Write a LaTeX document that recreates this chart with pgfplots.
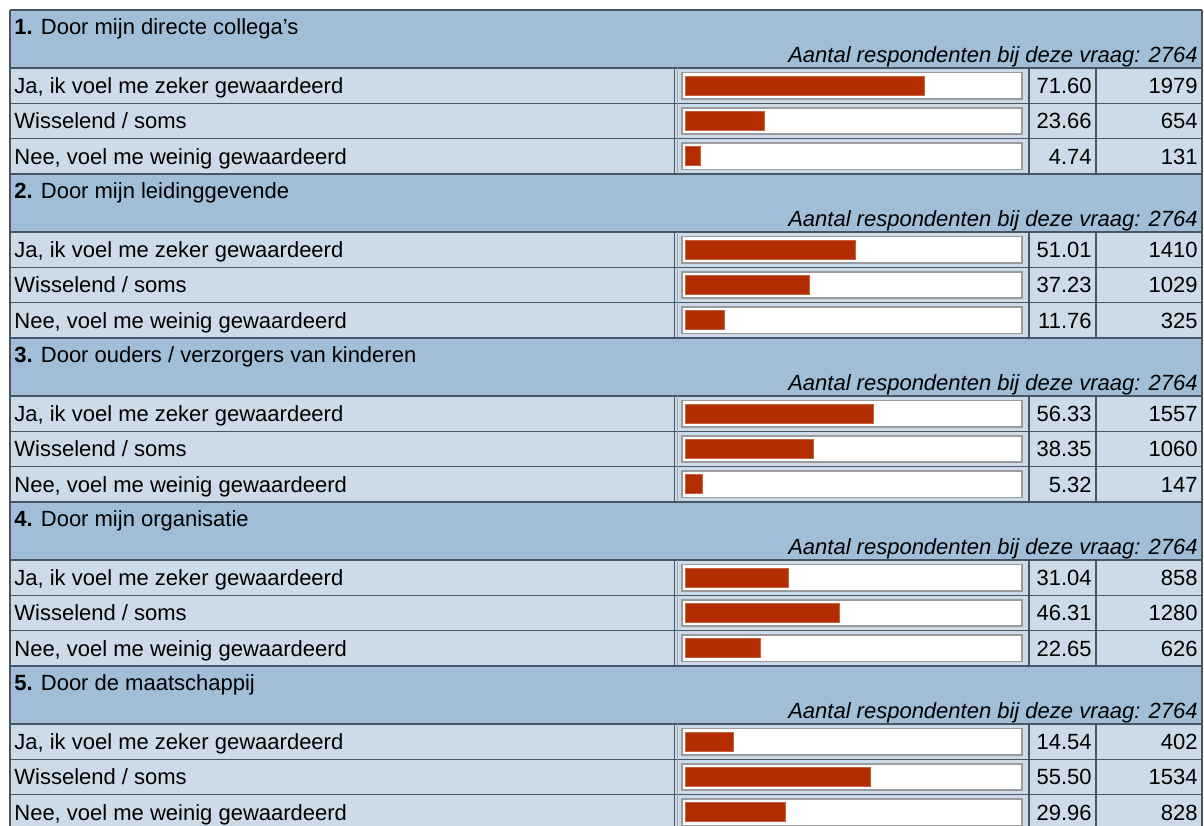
\documentclass[border=0pt]{standalone}
\usepackage{pgfplots}
\pgfplotsset{compat=1.18}
\usepackage{pgfplotstable}
\usepackage{fontspec}
\setmainfont{Liberation Sans}
\definecolor{hdr}{RGB}{160,190,216}
\definecolor{rowbg}{RGB}{205,219,232}
\definecolor{barred}{RGB}{179,45,0}
\definecolor{gridc}{RGB}{72,86,100}
\definecolor{gridl}{RGB}{150,165,180}
\definecolor{boxgray}{RGB}{155,155,155}

% y = row centre (px from top), pct = percentage, n = count
\pgfplotstableread{
y     pct    n
85.7  71.60  1979
121.0 23.66  654
156.3 4.74   131
249.7 51.01  1410
285.0 37.23  1029
320.3 11.76  325
413.7 56.33  1557
449.0 38.35  1060
484.3 5.32   147
577.7 31.04  858
613.0 46.31  1280
648.3 22.65  626
741.7 14.54  402
777.0 55.50  1534
812.3 29.96  828
}\datatable

\newcommand\block[3]{%
  \fill[hdr] (10,#1) rectangle (1202,{#1+58});
  \fill[rowbg] (10,{#1+58}) rectangle (1202,{#1+164});
  \foreach \r in {0,1,2}{
    \filldraw[fill=white, draw=boxgray, line width=0.8pt]
      (682,{#1+58+35.333*\r+4.5}) rectangle (1022,{#1+58+35.333*\r+30.8});
  }
  \draw[gridc, line width=0.8pt] (10,#1) -- (1202,#1);
  \draw[gridc, line width=0.8pt] (10,{#1+58}) -- (1202,{#1+58});
  \draw[gridc, line width=0.6pt] (10,{#1+93.33}) -- (1202,{#1+93.33});
  \draw[gridc, line width=0.6pt] (10,{#1+128.67}) -- (1202,{#1+128.67});
  \draw[gridc, line width=0.8pt] (674.5,{#1+58}) -- (674.5,{#1+164});
  \draw[gridl, line width=0.5pt] (677.5,{#1+58}) -- (677.5,{#1+164});
  \draw[gridc, line width=0.6pt] (1029,{#1+58}) -- (1029,{#1+164});
  \draw[gridc, line width=0.6pt] (1096,{#1+58}) -- (1096,{#1+164});
  \node[anchor=base west, inner sep=0pt] at (14,{#1+24}) {\textbf{#2.} #3};
  \node[anchor=base east, inner sep=0pt] at (1198,{#1+52.5}) {\itshape Aantal respondenten bij deze vraag: 2764};
  \node[anchor=base west, inner sep=0pt] at (14,{#1+83.5}) {Ja, ik voel me zeker gewaardeerd};
  \node[anchor=base west, inner sep=0pt] at (14,{#1+118.8}) {Wisselend / soms};
  \node[anchor=base west, inner sep=0pt] at (14,{#1+154.2}) {Nee, voel me weinig gewaardeerd};
}

\begin{document}
\begin{tikzpicture}[font=\fontsize{11}{13}\selectfont]
\useasboundingbox (0pt,0pt) rectangle (602pt,-412.5pt);
\begin{scope}[x=0.5pt, y=-0.5pt]
\clip (0,0) rectangle (1204,825);
\fill[white] (0,0) rectangle (1204,825);

\block{10}{1}{Door mijn directe collega’s}
\block{174}{2}{Door mijn leidinggevende}
\block{338}{3}{Door ouders / verzorgers van kinderen}
\block{502}{4}{Door mijn organisatie}
\block{666}{5}{Door de maatschappij}

\draw[gridc, line width=0.8pt] (10,10) -- (10,830);
\draw[gridc, line width=0.8pt] (1202,10) -- (1202,830);

\pgfplotstablegetrowsof{\datatable}
\pgfmathtruncatemacro\nrows{\pgfplotsretval-1}
\foreach \i in {0,...,\nrows}{
  \pgfplotstablegetelem{\i}{y}\of\datatable \let\yy\pgfplotsretval
  \pgfplotstablegetelem{\i}{pct}\of\datatable \let\pp\pgfplotsretval
  \pgfplotstablegetelem{\i}{n}\of\datatable \let\nn\pgfplotsretval
  \node[anchor=base east, inner sep=0pt] at (1092,{\yy+7.8})
    {\pgfmathprintnumber[fixed, fixed zerofill, precision=2, assume math mode=true]{\pp}};
  \node[anchor=base east, inner sep=0pt] at (1198,{\yy+7.8}) {\nn};
}
\end{scope}

\begin{axis}[at={(342.5pt,0pt)}, anchor=north west,
  width=167pt, height=412.5pt, scale only axis,
  xmin=0, xmax=100, ymin=0, ymax=825, y dir=reverse,
  hide axis, xbar, bar width=9.5pt, clip=false]
\addplot[fill=barred, draw=barred!75!white, line width=0.4pt] table[x=pct, y=y]{\datatable};
\end{axis}
\end{tikzpicture}
\end{document}
